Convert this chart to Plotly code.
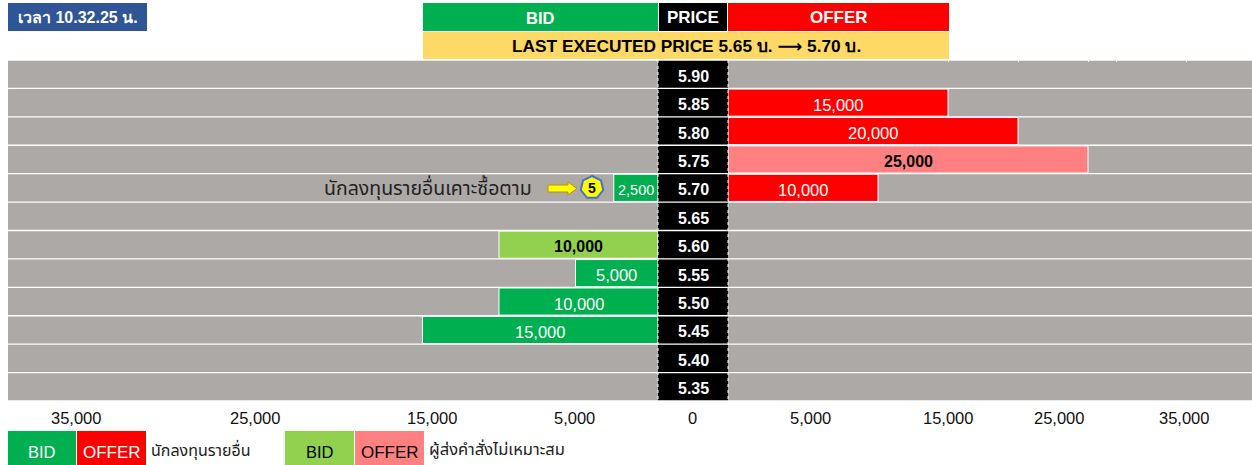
import math
import plotly.graph_objects as go

W, H = 1252, 465

# ---- data ----
prices = ["5.90", "5.85", "5.80", "5.75", "5.70", "5.65", "5.60", "5.55", "5.50", "5.45", "5.40", "5.35"]
bid_other = [None, None, None, None, 2500, None, None, 5000, 10000, 15000, None, None]
bid_unsuitable = [None, None, None, None, None, None, 10000, None, None, None, None, None]
offer_other = [None, 15000, 20000, None, 10000, None, None, None, None, None, None, None]
offer_unsuitable = [None, None, None, 25000, None, None, None, None, None, None, None, None]
axis_labels = ["35,000", "25,000", "15,000", "5,000", "0", "5,000", "15,000", "25,000", "35,000"]
offer_grid_marks = [15000, 20000, 25000, 27000, 32000]

time_label = "เวลา 10.32.25 น."
last_price_label = "LAST EXECUTED PRICE 5.65 บ. ⟶ 5.70 บ."
note_label = "นักลงทุนรายอื่นเคาะซื้อตาม"
legend_other = "นักลงทุนรายอื่น"
legend_unsuitable = "ผู้ส่งคำสั่งไม่เหมาะสม"

# ---- styling / layout ----
GREEN, RED, LGREEN, PINK = "#00B050", "#FF0000", "#92D050", "#FF8080"
GRAY, YELLOW, BLUE = "#ADA9A7", "#FFD966", "#2F5597"
SANS = "Liberation Sans"
THAI = "Noto Sans Thai, Noto Sans, DejaVu Sans, Liberation Sans"

BID_BASE, BID_FAR = -392, 42090
OFFER_BASE, OFFER_FAR = -714, 36714
TICK_X = [76, 255, 432, 574, 692, 810, 948, 1059, 1184]
TEXT_DROP = -2  # pixels, plotly yshift is upward-positive


def px(x):
    return x / W


def py(y):
    return 1 - y / H


fig = go.Figure()
shapes, notes = [], []


def bar(values, base, xaxis, color, size=16.5, tcolor="white", bold=False, edge=True, show=True):
    fig.add_trace(go.Bar(
        y=prices, x=[None if v is None else v - base for v in values], base=base, orientation="h",
        xaxis=xaxis, yaxis="y",
        marker=dict(color=color, line=dict(color="white", width=1 if edge else 0)),
        hoverinfo="skip", showlegend=False))
    if show:
        for row, v in enumerate(values):
            if v is not None:
                notes.append(dict(xref=xaxis, yref="y", x=(base + v) / 2, y=row, yshift=TEXT_DROP,
                                  text=f"<b>{v:,}</b>" if bold else f"{v:,}", showarrow=False,
                                  xanchor="center", yanchor="middle",
                                  font=dict(family=SANS, size=14.5 if v < 5000 else size, color=tcolor)))


bar([BID_FAR] * len(prices), BID_BASE, "x", GRAY, edge=False, show=False)
bar(bid_other, BID_BASE, "x", GREEN)
bar(bid_unsuitable, BID_BASE, "x", LGREEN, tcolor="black", bold=True, size=16)

bar([OFFER_FAR] * len(prices), OFFER_BASE, "x2", GRAY, edge=False, show=False)
bar(offer_other, OFFER_BASE, "x2", RED)
bar(offer_unsuitable, OFFER_BASE, "x2", PINK, tcolor="black", bold=True, size=16)

bar([1] * len(prices), 0, "x3", "black", edge=False, show=False)
for row, p in enumerate(prices):
    notes.append(dict(xref="x3", yref="y", x=0.5, y=row, yshift=TEXT_DROP, text=f"<b>{p}</b>", showarrow=False,
                      xanchor="center", yanchor="middle", font=dict(family=SANS, size=16, color="white")))


def box(x0, y0, x1, y1, color, text=None, size=16, tcolor="white", bold=False, drop=1):
    shapes.append(dict(type="rect", xref="paper", yref="paper", x0=px(x0), x1=px(x1), y0=py(y0), y1=py(y1),
                       fillcolor=color, line=dict(width=0), layer="above"))
    if text:
        notes.append(dict(xref="paper", yref="paper", x=px((x0 + x1) / 2), y=py((y0 + y1) / 2 + drop),
                          text=f"<b>{text}</b>" if bold else text, showarrow=False,
                          xanchor="center", yanchor="middle",
                          font=dict(family=SANS + ", DejaVu Sans", size=size, color=tcolor)))


def note(x, y, text, size=16, color="black", family=SANS, anchor="center"):
    notes.append(dict(xref="paper", yref="paper", x=px(x), y=py(y), text=text, showarrow=False,
                      xanchor=anchor, yanchor="middle", font=dict(family=family, size=size, color=color)))


def path(points, fill, line, width):
    d = "M " + " L ".join(f"{px(a):.5f},{py(b):.5f}" for a, b in points) + " Z"
    shapes.append(dict(type="path", xref="paper", yref="paper", path=d, fillcolor=fill,
                       line=dict(color=line, width=width), layer="above"))


# dotted white edges of the price column
for x in (658, 728):
    shapes.append(dict(type="line", xref="paper", yref="paper", x0=px(x), x1=px(x), y0=py(60), y1=py(401),
                       line=dict(color="white", width=1, dash="dot"), layer="above"))

# header
box(8, 3, 147, 31, BLUE, time_label, size=16, bold=True)
box(423, 3, 658, 31, GREEN, "BID", size=16.5, bold=True)
box(659, 3, 727, 31, "black", "PRICE", size=17, bold=True)
box(728, 3, 949, 31, RED, "OFFER", size=17, bold=True)
box(423, 32, 949, 59, YELLOW, last_price_label, size=17.3, tcolor="black", bold=True)

# annotation on the 5.70 row
note(534, 189, note_label, size=19.5, color="#222222", family=THAI, anchor="right")
path([(548, 185), (568, 185), (568, 182), (577, 188.5), (568, 195), (568, 192), (548, 192)],
     "#FFFF00", "#BF9000", 1)
path([(592 + 11.5 * math.sin(2 * math.pi * k / 7), 187.5 - 11.5 * math.cos(2 * math.pi * k / 7)) for k in range(7)],
     "#FFFF00", "#4472C4", 2)
note(592, 188, "<b>5</b>", size=14)

# bottom scale labels
for x, label in zip(TICK_X, axis_labels):
    note(x, 418, label, size=16.5, color="#111111")

# legend blocks
box(8, 431, 76, H, GREEN, "BID", size=16.5, drop=4)
box(77, 431, 146, H, RED, "OFFER", size=17, drop=4)
note(149, 451, legend_other, size=16, color="#222222", family=THAI, anchor="left")
shapes.append(dict(type="line", xref="paper", yref="paper", x0=px(284), x1=px(284), y0=py(431), y1=py(H),
                   line=dict(color="#E4E4E4", width=1), layer="above"))
box(285, 431, 354, H, LGREEN, "BID", size=16.5, tcolor="black", drop=4)
box(355, 431, 424, H, PINK, "OFFER", size=17, tcolor="black", drop=4)
note(427, 449, legend_unsuitable, size=16.5, color="#222222", family=THAI, anchor="left")

fig.update_layout(
    width=W, height=H, autosize=False, margin=dict(l=0, r=0, t=0, b=0),
    paper_bgcolor="white", plot_bgcolor="white",
    barmode="overlay", bargap=0.045, showlegend=False,
    yaxis=dict(type="category", categoryorder="array", categoryarray=prices, range=[11.5, -0.5],
               domain=[py(401), py(60)], showgrid=False, showticklabels=False, ticks="", zeroline=False,
               showline=False, anchor="x"),
    xaxis=dict(range=[BID_FAR, BID_BASE], domain=[px(8), px(658)], anchor="y", showgrid=False,
               showticklabels=False, ticks="", zeroline=False),
    xaxis2=dict(range=[OFFER_BASE, OFFER_FAR], domain=[px(728), 1], anchor="y", side="top", showgrid=False,
                showticklabels=False, zeroline=False, ticks="inside", ticklen=2, tickwidth=1, tickcolor="white",
                tickmode="array", tickvals=offer_grid_marks),
    xaxis3=dict(range=[0, 1], domain=[px(658), px(728)], anchor="y", showgrid=False,
                showticklabels=False, ticks="", zeroline=False),
    shapes=shapes, annotations=notes,
)

fig.write_html("out.html", config=dict(displayModeBar=False),
               post_script="document.body.style.margin='0';document.body.style.overflow='hidden';")
